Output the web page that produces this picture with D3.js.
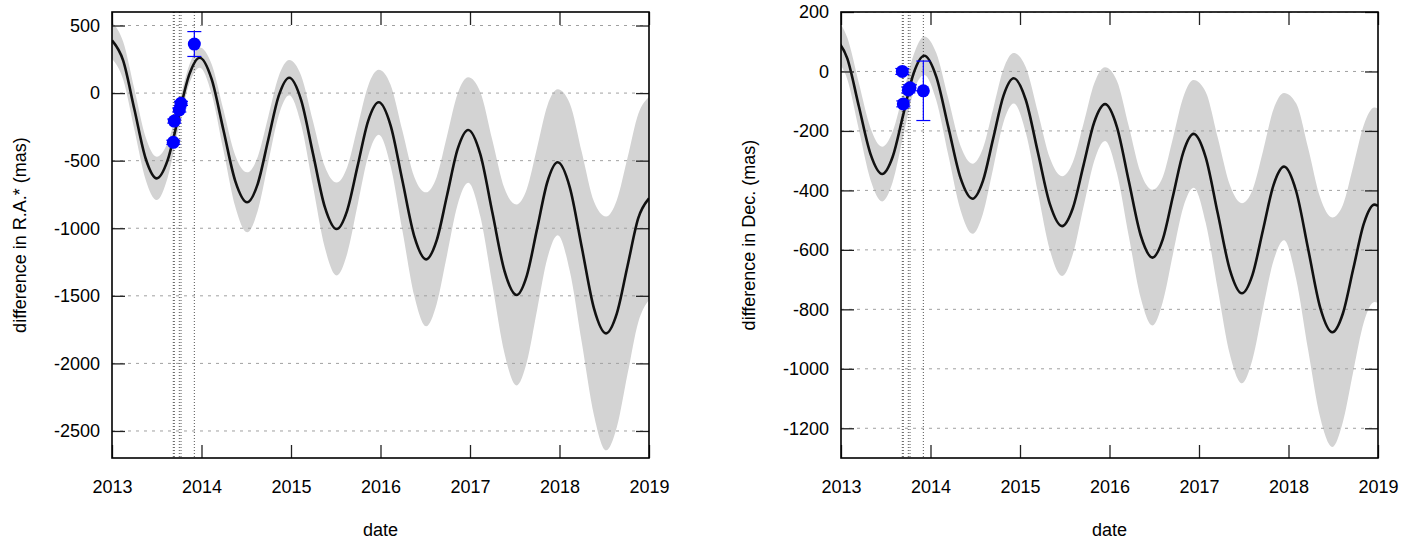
<!DOCTYPE html>
<html><head><meta charset="utf-8">
<script src="https://cdn.jsdelivr.net/npm/d3@7"></script>
<style>
body{margin:0;background:#fff}
text{font-family:"Liberation Sans",Arial,Helvetica,sans-serif;fill:#000}
</style>
</head><body>
<svg id="chart" width="1416" height="540"></svg>
<script>
// ---- data (decimal years, mas) ----
const xTickLabels = [2013, 2014, 2015, 2016, 2017, 2018, 2019];
const raTickLabels = [500, 0, -500, -1000, -1500, -2000, -2500];
const decTickLabels = [200, 0, -200, -400, -600, -800, -1000, -1200];

const raDates = [2013.0, 2013.125, 2013.25, 2013.375, 2013.50,
  2013.62, 2013.74, 2013.86, 2013.98,
  2014.1125, 2014.245, 2014.3775, 2014.51,
  2014.6275, 2014.745, 2014.8625, 2014.98,
  2015.1125, 2015.245, 2015.3775, 2015.51,
  2015.6275, 2015.745, 2015.8625, 2015.98,
  2016.1125, 2016.245, 2016.3775, 2016.51,
  2016.6275, 2016.745, 2016.8625, 2016.98,
  2017.115, 2017.25, 2017.385, 2017.52,
  2017.635, 2017.75, 2017.865, 2017.98,
  2018.115, 2018.25, 2018.385, 2018.52,
  2018.64, 2018.76, 2018.88, 2019.0];
const raModel = [390, 240, -120, -482, -631,
  -500, -184, 131, 262,
  105, -273, -651, -808,
  -673, -347, -21, 114,
  -50, -446, -842, -1006,
  -869, -537, -205, -68,
  -238, -649, -1060, -1230,
  -1090, -752, -413, -273,
  -452, -884, -1315, -1494,
  -1350, -1003, -656, -512,
  -697, -1145, -1593, -1778,
  -1632, -1279, -925, -779];
const raSpread = [135, 140, 150, 157, 160,
  130, 90, 70, 75,
  110, 150, 190, 222,
  200, 170, 145, 130,
  180, 240, 300, 344,
  320, 290, 260, 240,
  300, 370, 440, 496,
  470, 440, 410, 390,
  460, 535, 610, 670,
  640, 600, 565, 540,
  620, 705, 790, 865,
  840, 800, 770, 750];

const decDates = [2012.94, 2013.07, 2013.20, 2013.33, 2013.46,
  2013.5775, 2013.695, 2013.8125, 2013.93,
  2014.065, 2014.20, 2014.335, 2014.47,
  2014.585, 2014.70, 2014.815, 2014.93,
  2015.065, 2015.20, 2015.335, 2015.47,
  2015.59, 2015.71, 2015.83, 2015.95,
  2016.0825, 2016.215, 2016.3475, 2016.48,
  2016.595, 2016.71, 2016.825, 2016.94,
  2017.075, 2017.21, 2017.345, 2017.48,
  2017.5975, 2017.715, 2017.8325, 2017.95,
  2018.085, 2018.22, 2018.355, 2018.49,
  2018.6075, 2018.725, 2018.8425, 2018.96, 2019.0];
const decModel = [110, 44, -118, -278, -345,
  -287, -146, -5, 53,
  -18, -188, -358, -428,
  -369, -226, -82, -23,
  -96, -272, -447, -520,
  -460, -315, -170, -110,
  -186, -368, -550, -626,
  -565, -418, -271, -210,
  -289, -478, -667, -746,
  -684, -533, -382, -320,
  -402, -598, -795, -877,
  -814, -662, -511, -448, -452];
const decSpread = [70, 70, 78, 87, 92,
  85, 72, 62, 65,
  80, 95, 108, 118,
  110, 100, 90, 85,
  110, 135, 155, 168,
  155, 140, 130, 124,
  155, 185, 210, 228,
  210, 195, 185, 181,
  220, 255, 285, 303,
  285, 265, 255, 248,
  295, 340, 370, 386,
  365, 345, 332, 327, 327];

const obsDates = [2013.685, 2013.696, 2013.752, 2013.771, 2013.92];
const raObs = [-364, -207, -125, -76, 363];
const raObsErr = [15, 15, 15, 15, 92];
const decObs = [0, -109, -62, -55, -65];
const decObsErr = [10, 10, 10, 10, 100];

// ---- drawing ----
const svg = d3.select("#chart");
const fmt = d => String(d);   // plain hyphen-minus, as in the reference

function panel(cfg) {
  const g = svg.append("g");
  const x = d3.scaleLinear().domain([2013, 2019]).range([cfg.left, cfg.right]);
  const y = d3.scaleLinear().domain(cfg.yDomain).range([458, 12]);
  const top = 12, bottom = 458;
  const clipId = "clip" + cfg.id;
  svg.append("defs").append("clipPath").attr("id", clipId)
    .append("rect").attr("x", cfg.left).attr("y", top)
    .attr("width", cfg.right - cfg.left).attr("height", bottom - top);

  const rows = cfg.dates.map((d, i) => ({t: d, v: cfg.model[i], s: cfg.spread[i]}));
  const plot = g.append("g").attr("clip-path", `url(#${clipId})`);

  // uncertainty band
  plot.append("path").datum(rows)
    .attr("fill", "#d3d3d3")
    .attr("d", d3.area().curve(d3.curveMonotoneX)
      .x(d => x(d.t)).y0(d => y(d.v - d.s)).y1(d => y(d.v + d.s)));

  // horizontal grid
  plot.selectAll("line.grid").data(cfg.ticks).enter().append("line")
    .attr("class", "grid")
    .attr("x1", cfg.left).attr("x2", cfg.right)
    .attr("y1", d => y(d)).attr("y2", d => y(d))
    .attr("stroke", "#a0a0a0").attr("stroke-width", 1)
    .attr("stroke-dasharray", "3,5");

  // observation epochs
  plot.selectAll("line.obs").data(obsDates).enter().append("line")
    .attr("class", "obs")
    .attr("x1", d => x(d)).attr("x2", d => x(d))
    .attr("y1", top).attr("y2", bottom)
    .attr("stroke", "#555").attr("stroke-width", 1)
    .attr("stroke-dasharray", "1,2");

  // model curve
  plot.append("path").datum(rows)
    .attr("fill", "none").attr("stroke", "#111").attr("stroke-width", 2.6)
    .attr("d", d3.line().curve(d3.curveMonotoneX).x(d => x(d.t)).y(d => y(d.v)));

  // observations with error bars
  const pts = obsDates.map((d, i) => ({t: d, v: cfg.obs[i], e: cfg.err[i]}));
  const eb = plot.append("g").attr("stroke", "#0000ff").attr("stroke-width", 1.2);
  pts.forEach(p => {
    eb.append("line").attr("x1", x(p.t)).attr("x2", x(p.t))
      .attr("y1", y(p.v + p.e)).attr("y2", y(p.v - p.e));
    [p.v + p.e, p.v - p.e].forEach(v => {
      eb.append("line").attr("x1", x(p.t) - 7).attr("x2", x(p.t) + 7)
        .attr("y1", y(v)).attr("y2", y(v));
    });
  });
  plot.selectAll("circle.pt").data(pts).enter().append("circle")
    .attr("class", "pt")
    .attr("cx", d => x(d.t)).attr("cy", d => y(d.v)).attr("r", 6.5)
    .attr("fill", "#0000ff");

  // axes (ticks pointing inward, mirrored)
  const axB = g.append("g").attr("transform", `translate(0,${bottom})`)
    .call(d3.axisBottom(x).tickValues(xTickLabels).tickFormat(fmt)
      .tickSizeInner(-13).tickSizeOuter(0).tickPadding(22));
  const axT = g.append("g").attr("transform", `translate(0,${top})`)
    .call(d3.axisTop(x).tickValues(xTickLabels).tickFormat("")
      .tickSizeInner(-13).tickSizeOuter(0));
  const axL = g.append("g").attr("transform", `translate(${cfg.left},0)`)
    .call(d3.axisLeft(y).tickValues(cfg.ticks).tickFormat(fmt)
      .tickSizeInner(-13).tickSizeOuter(0).tickPadding(12));
  const axR = g.append("g").attr("transform", `translate(${cfg.right},0)`)
    .call(d3.axisRight(y).tickValues(cfg.ticks).tickFormat("")
      .tickSizeInner(-13).tickSizeOuter(0));
  [axB, axT, axL, axR].forEach(a => {
    a.select(".domain").remove();
    a.selectAll(".tick line").attr("stroke", "#222").attr("stroke-width", 1.3);
    a.selectAll("text").attr("font-size", 18)
      .attr("font-family", "'Liberation Sans', Arial, sans-serif").attr("fill", "#000");
  });

  // frame
  g.append("rect").attr("x", cfg.left).attr("y", top)
    .attr("width", cfg.right - cfg.left).attr("height", bottom - top)
    .attr("fill", "none").attr("stroke", "#000").attr("stroke-width", 1.6);

  // axis titles
  g.append("text")
    .attr("transform", `translate(${cfg.left - 86},${(top + bottom) / 2}) rotate(-90)`)
    .attr("text-anchor", "middle").attr("font-size", 18).text(cfg.ylabel);
  g.append("text")
    .attr("x", (cfg.left + cfg.right) / 2).attr("y", 536)
    .attr("text-anchor", "middle").attr("font-size", 18).text("date");
}

panel({id: "ra", left: 112, right: 649, yDomain: [-2700, 600], ticks: raTickLabels,
  dates: raDates, model: raModel, spread: raSpread, obs: raObs, err: raObsErr,
  ylabel: "difference in R.A.* (mas)"});
panel({id: "dec", left: 841, right: 1378, yDomain: [-1300, 200], ticks: decTickLabels,
  dates: decDates, model: decModel, spread: decSpread, obs: decObs, err: decObsErr,
  ylabel: "difference in Dec. (mas)"});
</script>
</body></html>
